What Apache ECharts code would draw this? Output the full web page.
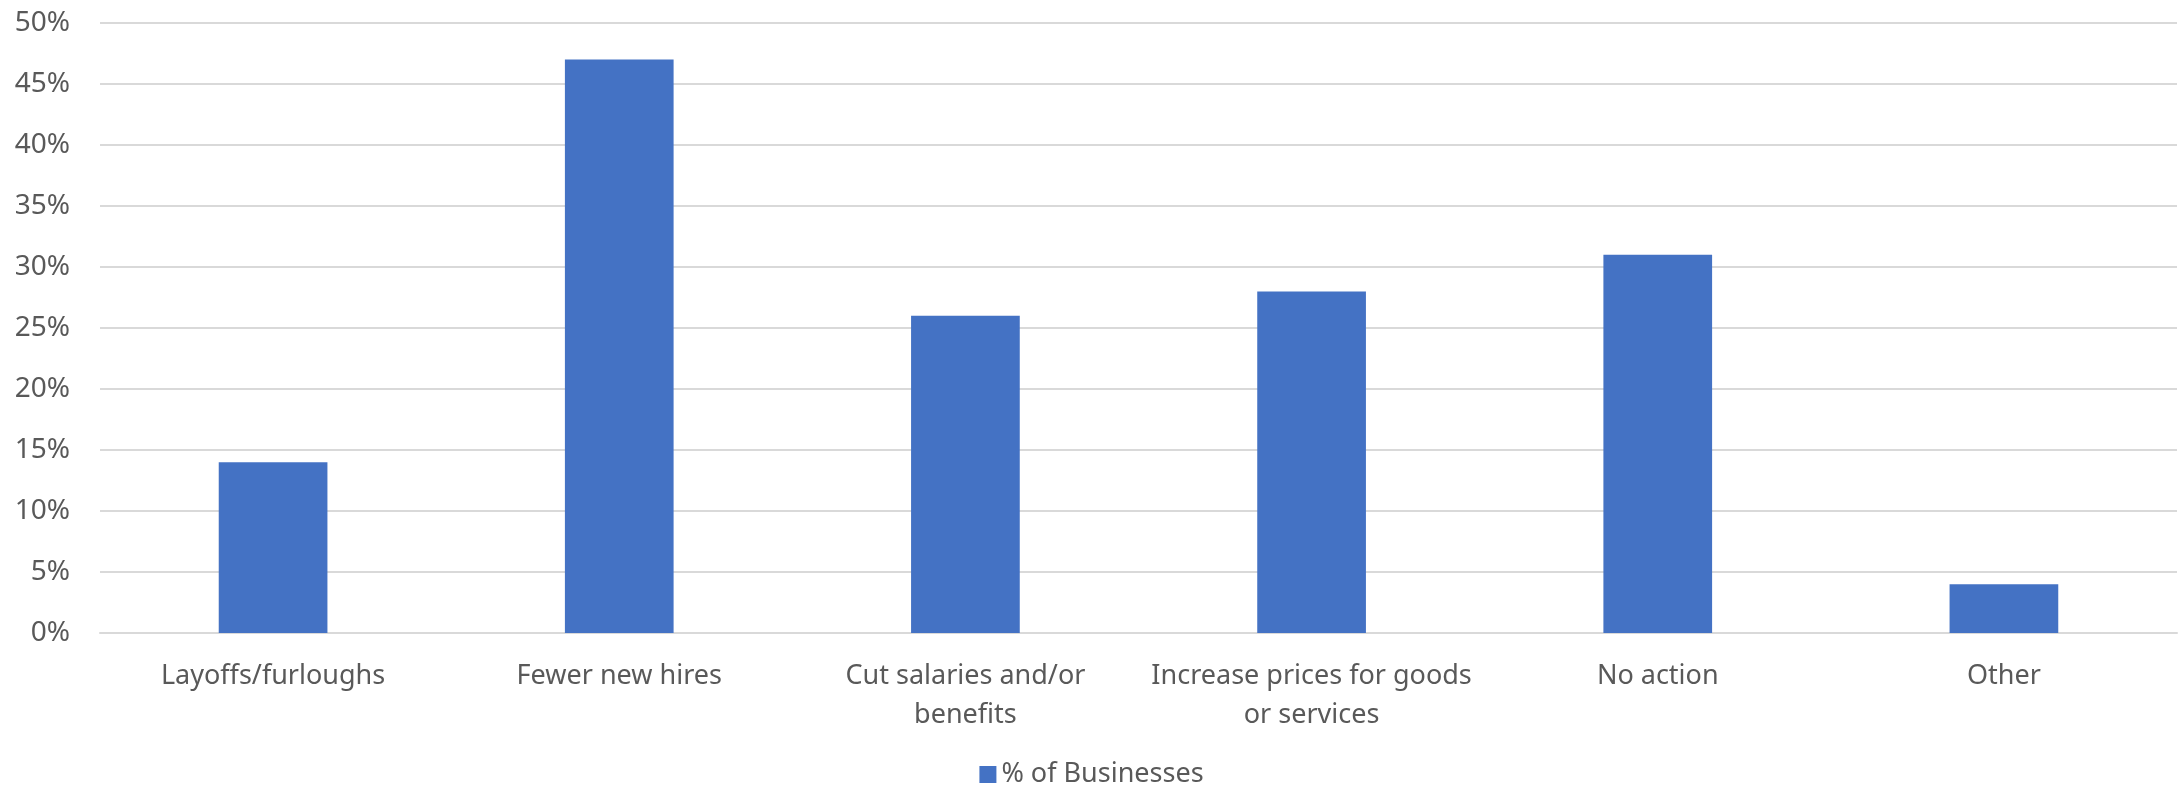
<!DOCTYPE html>
<html>
<head>
<meta charset="utf-8">
<script src="https://cdn.jsdelivr.net/npm/echarts@6/dist/echarts.min.js"></script>
<style>
  html, body { margin: 0; padding: 0; background: #fff; }
  #main { width: 2183px; height: 789px; }
</style>
</head>
<body>
<div id="main"></div>
<script>
// data
const categories = [
  'Layoffs/furloughs',
  'Fewer new hires',
  'Cut salaries and/or\nbenefits',
  'Increase prices for goods\nor services',
  'No action',
  'Other'
]
const businessShare = [14, 47, 26, 28, 31, 4]
const seriesName = '% of Businesses'

const textColor = '#595959'
const font = 'Noto Sans'

const chart = echarts.init(document.getElementById('main'))
const option = {
  animation: false,
  textStyle: { fontFamily: font },
  grid: { left: 100, right: 6, top: 23, bottom: 156 },
  legend: {
    data: [seriesName],
    bottom: -4,
    left: 'center',
    icon: 'rect',
    itemWidth: 17,
    itemHeight: 17,
    itemGap: 10,
    textStyle: { color: textColor, fontSize: 27, fontFamily: font }
  },
  xAxis: {
    type: 'category',
    data: categories,
    axisLine: { lineStyle: { color: '#d9d9d9', width: 2 } },
    axisTick: { show: false },
    axisLabel: {
      color: textColor,
      fontSize: 27,
      lineHeight: 39,
      margin: 24,
      interval: 0
    }
  },
  yAxis: {
    type: 'value',
    min: 0,
    max: 50,
    interval: 5,
    axisLine: { show: false },
    axisTick: { show: false },
    splitLine: { lineStyle: { color: '#d9d9d9', width: 2 } },
    axisLabel: {
      color: textColor,
      fontSize: 28,
      margin: 30,
      formatter: '{value}%'
    }
  },
  series: [
    {
      name: seriesName,
      type: 'bar',
      data: businessShare,
      barWidth: '31.4%',
      itemStyle: { color: '#4472c4' }
    }
  ]
}
chart.setOption(option)
</script>
</body>
</html>
